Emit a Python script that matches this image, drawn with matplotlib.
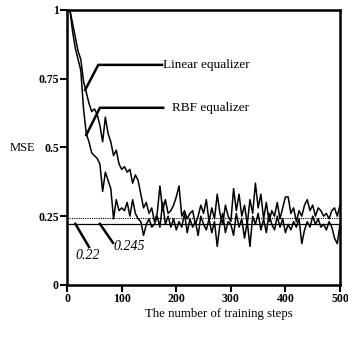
import numpy as np
import matplotlib.pyplot as plt

plt.rcParams['font.family'] = ['Liberation Serif', 'DejaVu Serif']

# training steps (every 5 steps)
steps = list(range(5, 505, 5))

linear_mse = [1.00, 0.95, 0.90, 0.85, 0.82, 0.74, 0.70, 0.66, 0.63, 0.64,
              0.62, 0.58, 0.52, 0.61, 0.55, 0.52, 0.47, 0.49, 0.44, 0.42,
              0.43, 0.41, 0.42, 0.37, 0.40, 0.38, 0.33, 0.28, 0.30, 0.26,
              0.28, 0.23, 0.26, 0.36, 0.27, 0.31, 0.26, 0.27, 0.29, 0.32,
              0.36, 0.25, 0.27, 0.24, 0.26, 0.27, 0.22, 0.25, 0.29, 0.26,
              0.31, 0.23, 0.28, 0.24, 0.33, 0.26, 0.22, 0.29, 0.25, 0.23,
              0.35, 0.27, 0.33, 0.25, 0.29, 0.22, 0.31, 0.26, 0.37, 0.28,
              0.33, 0.24, 0.30, 0.23, 0.27, 0.25, 0.30, 0.24, 0.28, 0.32,
              0.32, 0.26, 0.28, 0.23, 0.27, 0.25, 0.29, 0.31, 0.27, 0.29,
              0.25, 0.28, 0.27, 0.25, 0.26, 0.24, 0.27, 0.28, 0.25, 0.29]

rbf_mse = [1.00, 0.92, 0.86, 0.82, 0.78, 0.64, 0.55, 0.52, 0.48, 0.47,
           0.46, 0.44, 0.34, 0.41, 0.38, 0.35, 0.24, 0.31, 0.27, 0.28,
           0.27, 0.30, 0.25, 0.31, 0.26, 0.24, 0.23, 0.18, 0.22, 0.24,
           0.21, 0.22, 0.25, 0.21, 0.30, 0.22, 0.25, 0.21, 0.24, 0.20,
           0.23, 0.21, 0.26, 0.19, 0.24, 0.21, 0.23, 0.18, 0.25, 0.22,
           0.20, 0.24, 0.19, 0.23, 0.14, 0.22, 0.26, 0.19, 0.23, 0.22,
           0.18, 0.26, 0.21, 0.24, 0.17, 0.23, 0.14, 0.25, 0.22, 0.26,
           0.20, 0.24, 0.19, 0.26, 0.22, 0.20, 0.25, 0.21, 0.24, 0.19,
           0.22, 0.20, 0.23, 0.21, 0.24, 0.15, 0.20, 0.23, 0.21, 0.25,
           0.22, 0.24, 0.21, 0.22, 0.20, 0.23, 0.21, 0.17, 0.15, 0.22]

level_linear = 0.245
level_rbf = 0.22

y_ticks = [0, 0.25, 0.5, 0.75, 1]
y_tick_labels = ['0', '0.25', '0.5', '0.75', '1']
x_ticks = [0, 100, 200, 300, 400, 500]

fig = plt.figure(figsize=(3.48, 3.40), dpi=100)
ax = fig.add_axes([0.193, 0.162, 0.784, 0.809])

ax.plot(steps, linear_mse, color='black', lw=1.1)
ax.plot(steps, rbf_mse, color='black', lw=1.1)
ax.axhline(level_linear, color='black', lw=0.8, ls=(0, (1, 1)))
ax.axhline(level_rbf, color='black', lw=0.9)

# callouts
ax.plot([33, 57, 174], [0.709, 0.80, 0.80], color='black', lw=1.8)
ax.text(176, 0.80, 'Linear equalizer', fontsize=9.5, va='center')
ax.plot([35, 60, 176], [0.545, 0.644, 0.644], color='black', lw=1.8)
ax.text(193, 0.644, 'RBF equalizer', fontsize=9.5, va='center')
ax.plot([15, 40], [0.222, 0.138], color='black', lw=1.8)
ax.text(38, 0.108, '0.22', fontsize=10, style='italic', ha='center', va='center')
ax.plot([60, 84], [0.222, 0.153], color='black', lw=1.8)
ax.text(113, 0.138, '0.245', fontsize=10, style='italic', ha='center', va='center')

ax.set_xlim(0, 500)
ax.set_ylim(0, 1)
ax.set_yticks(y_ticks)
ax.set_yticklabels(y_tick_labels)
ax.set_xticks(x_ticks)
ax.tick_params(direction='out', length=5, width=1.5, labelsize=8.5, pad=1)
for lab in ax.get_xticklabels() + ax.get_yticklabels():
    lab.set_fontweight('bold')
for s in ax.spines.values():
    s.set_linewidth(1.8)

fig.text(0.065, 0.565, 'MSE', fontsize=9, va='center', ha='center')
fig.text(0.628, 0.075, 'The number of training steps', fontsize=9.2, ha='center', va='center')

fig.savefig('out.png', dpi=100)
